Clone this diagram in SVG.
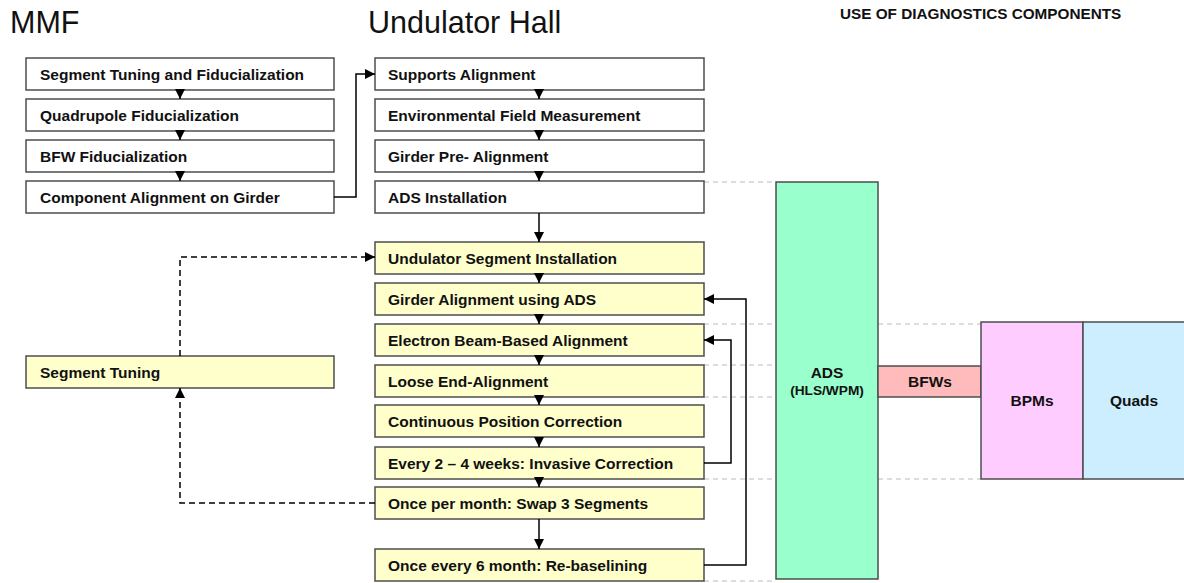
<svg xmlns="http://www.w3.org/2000/svg" width="1184" height="583" viewBox="0 0 1184 583">
<defs>
<marker id="ah" markerUnits="userSpaceOnUse" markerWidth="10" markerHeight="10" viewBox="0 0 10 10" refX="10" refY="5" orient="auto">
<path d="M0,0 L10,5 L0,10 z" fill="#000"/>
</marker>
<style>
.t{font-family:"Liberation Sans",Arial,sans-serif;font-weight:bold;font-size:15.5px;fill:#111}
.h{font-family:"Liberation Sans",Arial,sans-serif;font-size:30.5px;fill:#111}
.w{fill:#fff;stroke:#4d4d4d;stroke-width:1.5}
.y{fill:#ffffcc;stroke:#4d4d4d;stroke-width:1.5}
.c{fill:none;stroke:#000;stroke-width:1.5}
.d{fill:none;stroke:#000;stroke-width:1.5;stroke-dasharray:6,4}
.g{fill:none;stroke:#bbbbbb;stroke-width:1;stroke-dasharray:5,4}
.s{fill:none;stroke:#000;stroke-width:1.5;marker-end:url(#ah)}
</style>
</defs>
<rect width="1184" height="583" fill="#fff"/>
<text class="h" x="10" y="33">MMF</text>
<text class="h" x="368" y="33">Undulator Hall</text>
<text class="t" x="840" y="19" style="font-size:15.3px">USE OF DIAGNOSTICS COMPONENTS</text>

<g id="guides">
<path class="g" d="M704,182H776 M704,324H776 M878,324H981 M704,365H776 M704,397H776 M704,479H776 M878,479H981 M704,581H776"/>
</g>

<g id="mmf1"><rect class="w" x="26" y="58" width="308" height="32"/><text class="t" x="40" y="80">Segment Tuning and Fiducialization</text></g>
<g id="mmf2"><rect class="w" x="26" y="99" width="308" height="32"/><text class="t" x="40" y="121">Quadrupole Fiducialization</text></g>
<g id="mmf3"><rect class="w" x="26" y="140" width="308" height="32"/><text class="t" x="40" y="162">BFW Fiducialization</text></g>
<g id="mmf4"><rect class="w" x="26" y="181" width="308" height="32"/><text class="t" x="40" y="203">Component Alignment on Girder</text></g>
<g id="segtune"><rect class="y" x="26" y="356" width="308" height="32"/><text class="t" x="40" y="378">Segment Tuning</text></g>

<g id="uh1"><rect class="w" x="375" y="58" width="329" height="32"/><text class="t" x="388" y="80">Supports Alignment</text></g>
<g id="uh2"><rect class="w" x="375" y="99" width="329" height="32"/><text class="t" x="388" y="121">Environmental Field Measurement</text></g>
<g id="uh3"><rect class="w" x="375" y="140" width="329" height="32"/><text class="t" x="388" y="162">Girder Pre- Alignment</text></g>
<g id="uh4"><rect class="w" x="375" y="181" width="329" height="32"/><text class="t" x="388" y="203">ADS Installation</text></g>
<g id="uh5"><rect class="y" x="375" y="242" width="329" height="32"/><text class="t" x="388" y="264">Undulator Segment Installation</text></g>
<g id="uh6"><rect class="y" x="375" y="283" width="329" height="32"/><text class="t" x="388" y="305">Girder Alignment using ADS</text></g>
<g id="uh7"><rect class="y" x="375" y="324" width="329" height="32"/><text class="t" x="388" y="346">Electron Beam-Based Alignment</text></g>
<g id="uh8"><rect class="y" x="375" y="365" width="329" height="32"/><text class="t" x="388" y="387">Loose End-Alignment</text></g>
<g id="uh9"><rect class="y" x="375" y="405" width="329" height="32"/><text class="t" x="388" y="427">Continuous Position Correction</text></g>
<g id="uh10"><rect class="y" x="375" y="447" width="329" height="32"/><text class="t" x="388" y="469">Every 2 – 4 weeks: Invasive Correction</text></g>
<g id="uh11"><rect class="y" x="375" y="487" width="329" height="32"/><text class="t" x="388" y="509">Once per month: Swap 3 Segments</text></g>
<g id="uh12"><rect class="y" x="375" y="549" width="329" height="32"/><text class="t" x="388" y="571">Once every 6 month: Re-baselining</text></g>

<g id="ads"><rect x="776" y="182" width="102" height="397" fill="#99ffcc" stroke="#4d4d4d" stroke-width="1.5"/><text class="t" x="827" y="378" text-anchor="middle">ADS</text><text class="t" x="827" y="395" text-anchor="middle" style="font-size:13.7px">(HLS/WPM)</text></g>
<g id="bfws"><rect x="878" y="366" width="103" height="31" fill="#ffbbbb" stroke="#4d4d4d" stroke-width="1.5"/><text class="t" x="930" y="387" text-anchor="middle">BFWs</text></g>
<g id="bpms"><rect x="981" y="322" width="102" height="157" fill="#ffccff" stroke="#4d4d4d" stroke-width="1.5"/><text class="t" x="1032" y="406" text-anchor="middle">BPMs</text></g>
<g id="quads"><rect x="1083" y="322" width="104" height="157" fill="#cceeff" stroke="#4d4d4d" stroke-width="1.5"/><text class="t" x="1134" y="406" text-anchor="middle">Quads</text></g>

<g id="connectors">
<path class="s" d="M180,90V99"/>
<path class="s" d="M180,131V140"/>
<path class="s" d="M180,172V181"/>
<path class="s" d="M334,197H356V74H375"/>
<path class="s" d="M539,90V99"/>
<path class="s" d="M539,131V140"/>
<path class="s" d="M539,172V181"/>
<path class="s" d="M539,213V242"/>
<path class="s" d="M539,274V283"/>
<path class="s" d="M539,315V324"/>
<path class="s" d="M539,356V365"/>
<path class="s" d="M539,397V405"/>
<path class="s" d="M539,437V447"/>
<path class="s" d="M539,479V487"/>
<path class="s" d="M539,519V549"/>
<path class="s" d="M704,463H731V340H704"/>
<path class="s" d="M704,565H746V299H704"/>
<path class="d" d="M180,356V257H366"/>
<path class="s" d="M366,257H375"/>
<path class="d" d="M375,503H180V397"/>
<path class="s" d="M180,397V388"/>
</g>
</svg>
